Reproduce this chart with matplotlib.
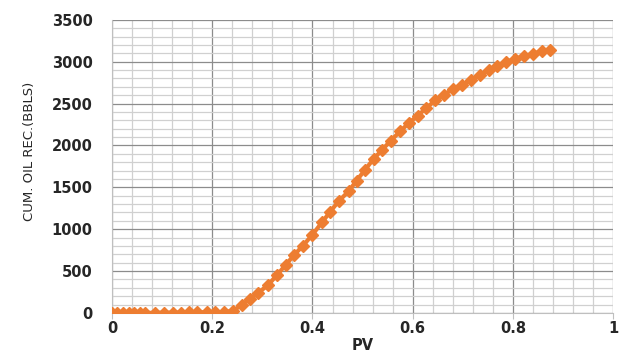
"""Cumulative oil recovery vs pore volume injected."""
import matplotlib
matplotlib.use('Agg')
import matplotlib.pyplot as plt
from matplotlib.ticker import MultipleLocator, FuncFormatter

pv = [0, 0.011, 0.022, 0.033, 0.044, 0.055, 0.066, 0.086, 0.104, 0.122,
      0.137, 0.154, 0.170, 0.189, 0.206, 0.224, 0.242, 0.259, 0.275, 0.292,
      0.312, 0.330, 0.347, 0.364, 0.381, 0.400, 0.419, 0.435, 0.452, 0.472,
      0.488, 0.505, 0.522, 0.538, 0.556, 0.575, 0.592, 0.610, 0.627, 0.645,
      0.663, 0.680, 0.698, 0.716, 0.735, 0.752, 0.769, 0.787, 0.804, 0.822,
      0.840, 0.858, 0.874]
cum_oil = [0, 0, 0, 0, 0, 0, 0, 2, 3, 4,
           5, 6, 7, 8, 9, 10, 25, 99, 167, 239,
           338, 457, 577, 696, 803, 935, 1082, 1206, 1333, 1452,
           1580, 1711, 1839, 1941, 2057, 2168, 2268, 2355, 2447, 2538,
           2606, 2674, 2725, 2777, 2845, 2905, 2952, 2997, 3033, 3064,
           3096, 3124, 3144]

ORANGE = '#ED7D31'

fig = plt.figure(figsize=(6.29, 3.54), dpi=100)
ax = fig.add_axes([0.178, 0.116, 0.797, 0.828])

ax.plot(pv, cum_oil, color=ORANGE, linewidth=3, marker='D', markersize=6,
        markeredgecolor=ORANGE, zorder=3)

ax.set_xlim(0, 1)
ax.set_ylim(0, 3500)
ax.xaxis.set_major_locator(MultipleLocator(0.2))
ax.xaxis.set_minor_locator(MultipleLocator(0.04))
ax.yaxis.set_major_locator(MultipleLocator(500))
ax.yaxis.set_minor_locator(MultipleLocator(100))
ax.xaxis.set_major_formatter(FuncFormatter(lambda v, p: f'{v:g}'))

ax.grid(which='major', color='#8c8c8c', linewidth=0.9)
ax.grid(which='minor', color='#d0d0d0', linewidth=0.9)
ax.set_axisbelow(True)

for side in ['left', 'bottom']:
    ax.spines[side].set_color('#bfbfbf')
ax.spines['top'].set_visible(False)
ax.spines['right'].set_visible(False)

ax.tick_params(which='minor', length=0)
ax.tick_params(axis='x', which='major', length=4, color='#bfbfbf', pad=2)
ax.tick_params(axis='y', which='major', length=0, pad=14)
for lab in ax.get_xticklabels() + ax.get_yticklabels():
    lab.set_fontsize(10.5)
    lab.set_fontweight('bold')
    lab.set_color('#262626')

ax.set_xlabel('PV', fontsize=10.5, fontweight='bold', color='#262626', labelpad=1)
ax.set_ylabel('CUM. OIL REC.(BBLS)', fontsize=9.5,
              family=['Liberation Sans Narrow', 'DejaVu Sans'],
              color='#262626')
ax.yaxis.set_label_coords(-0.152, 0.55)

plt.savefig('out.png', dpi=100)
plt.close()
